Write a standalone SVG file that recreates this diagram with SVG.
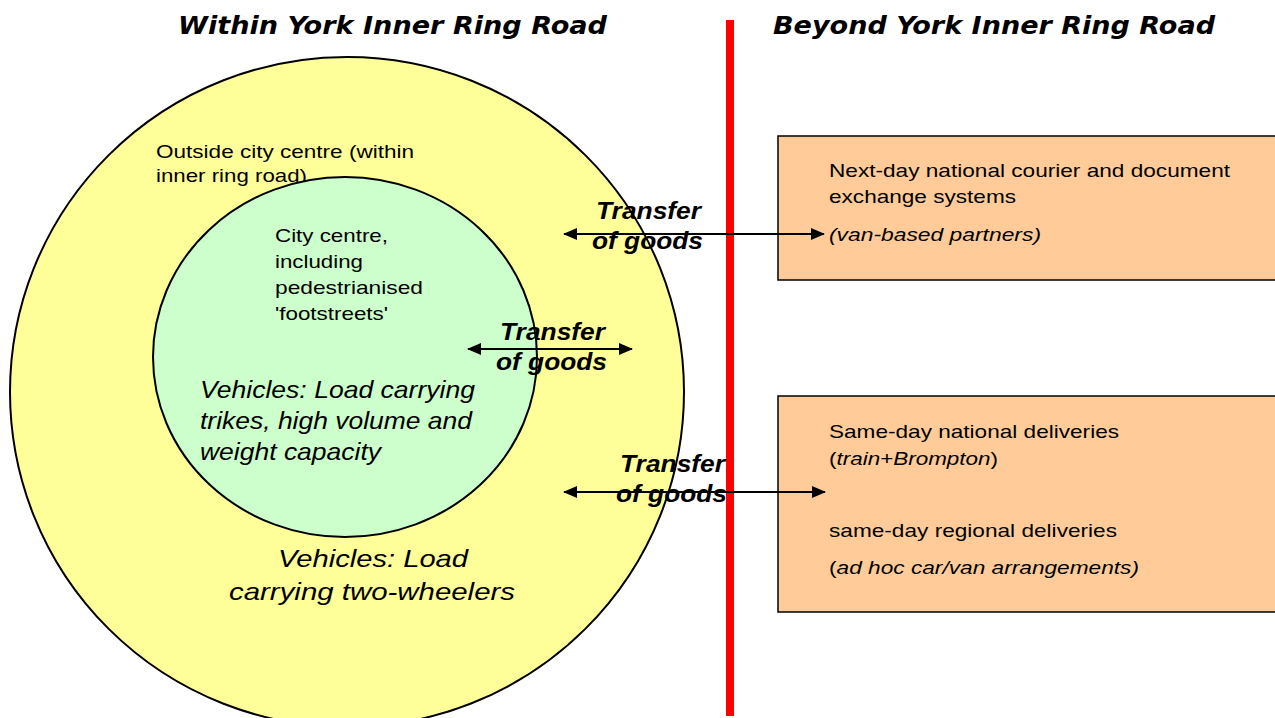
<svg xmlns="http://www.w3.org/2000/svg" width="1275" height="718" viewBox="0 0 1275 718">
<style>
.t{font-family:"Liberation Sans",Arial,sans-serif;fill:#000}
.title{font-family:"DejaVu Sans",Verdana,sans-serif;font-size:24px;font-weight:bold;font-style:italic}
.s{font-size:19px}
.i{font-style:italic}
.v{font-size:24px;font-style:italic}
.tr{font-size:23px;font-weight:bold;font-style:italic}
.box{fill:#FFCC99;stroke:#000;stroke-width:1.5}
.ar{stroke:#000;stroke-width:2;fill:none;marker-start:url(#ah);marker-end:url(#ah)}
</style>
<defs>
<marker id="ah" viewBox="0 0 14 12" refX="13" refY="6" markerWidth="14" markerHeight="12" orient="auto-start-reverse" markerUnits="userSpaceOnUse">
<path d="M0,0 L14,6 L0,12 z" fill="#000"/>
</marker>
</defs>
<rect width="1275" height="718" fill="#fff"/>
<g id="titles">
<text class="t title" x="178" y="34" textLength="429" lengthAdjust="spacingAndGlyphs">Within York Inner Ring Road</text>
<text class="t title" x="773" y="34" textLength="442" lengthAdjust="spacingAndGlyphs">Beyond York Inner Ring Road</text>
</g>
<g id="outer">
<ellipse cx="347" cy="392" rx="337" ry="335" fill="#FFFF99" stroke="#000" stroke-width="2"/>
<text class="t s" x="156" y="158" textLength="258" lengthAdjust="spacingAndGlyphs">Outside city centre (within</text>
<text class="t s" x="156" y="182" textLength="151" lengthAdjust="spacingAndGlyphs">inner ring road)</text>
<text class="t v" x="278" y="567" textLength="190" lengthAdjust="spacingAndGlyphs">Vehicles: Load</text>
<text class="t v" x="229" y="600" textLength="286" lengthAdjust="spacingAndGlyphs">carrying two-wheelers</text>
</g>
<g id="inner">
<ellipse cx="345" cy="357" rx="192" ry="180" fill="#CCFFCC" stroke="#000" stroke-width="2"/>
<text class="t s" x="275" y="242" textLength="113" lengthAdjust="spacingAndGlyphs">City centre,</text>
<text class="t s" x="275" y="268" textLength="88" lengthAdjust="spacingAndGlyphs">including</text>
<text class="t s" x="275" y="294" textLength="148" lengthAdjust="spacingAndGlyphs">pedestrianised</text>
<text class="t s" x="275" y="320" textLength="113" lengthAdjust="spacingAndGlyphs">'footstreets'</text>
<text class="t v" x="200" y="398" textLength="275" lengthAdjust="spacingAndGlyphs">Vehicles: Load carrying</text>
<text class="t v" x="200" y="429" textLength="272" lengthAdjust="spacingAndGlyphs">trikes, high volume and</text>
<text class="t v" x="200" y="460" textLength="181" lengthAdjust="spacingAndGlyphs">weight capacity</text>
</g>
<g id="boundary">
<rect x="726" y="20" width="8" height="696" fill="#FF0000"/>
</g>
<g id="box1">
<rect class="box" x="778" y="136" width="510" height="144"/>
<text class="t s" x="829" y="177" textLength="401" lengthAdjust="spacingAndGlyphs">Next-day national courier and document</text>
<text class="t s" x="829" y="203" textLength="187" lengthAdjust="spacingAndGlyphs">exchange systems</text>
<text class="t s i" x="829" y="241" textLength="212" lengthAdjust="spacingAndGlyphs">(van-based partners)</text>
</g>
<g id="box2">
<rect class="box" x="778" y="396" width="510" height="216"/>
<text class="t s" x="829" y="438" textLength="290" lengthAdjust="spacingAndGlyphs">Same-day national deliveries</text>
<text class="t s" x="829" y="465" textLength="169" lengthAdjust="spacingAndGlyphs">(<tspan class="i">train+Brompton</tspan>)</text>
<text class="t s" x="829" y="537" textLength="288" lengthAdjust="spacingAndGlyphs">same-day regional deliveries</text>
<text class="t s" x="829" y="574" textLength="310" lengthAdjust="spacingAndGlyphs">(<tspan class="i">ad hoc car/van arrangements)</tspan></text>
</g>
<g id="connectors">
<line class="ar" x1="564" y1="234" x2="824" y2="234"/>
<line class="ar" x1="468" y1="349" x2="632" y2="349"/>
<line class="ar" x1="564" y1="492" x2="825" y2="492"/>
</g>
<g id="labels">
<text class="t tr" x="596" y="219" textLength="105" lengthAdjust="spacingAndGlyphs">Transfer</text>
<text class="t tr" x="592" y="249" textLength="111" lengthAdjust="spacingAndGlyphs">of goods</text>
<text class="t tr" x="500" y="340" textLength="105" lengthAdjust="spacingAndGlyphs">Transfer</text>
<text class="t tr" x="496" y="370" textLength="111" lengthAdjust="spacingAndGlyphs">of goods</text>
<text class="t tr" x="620" y="472" textLength="105" lengthAdjust="spacingAndGlyphs">Transfer</text>
<text class="t tr" x="616" y="502" textLength="111" lengthAdjust="spacingAndGlyphs">of goods</text>
</g>
</svg>
